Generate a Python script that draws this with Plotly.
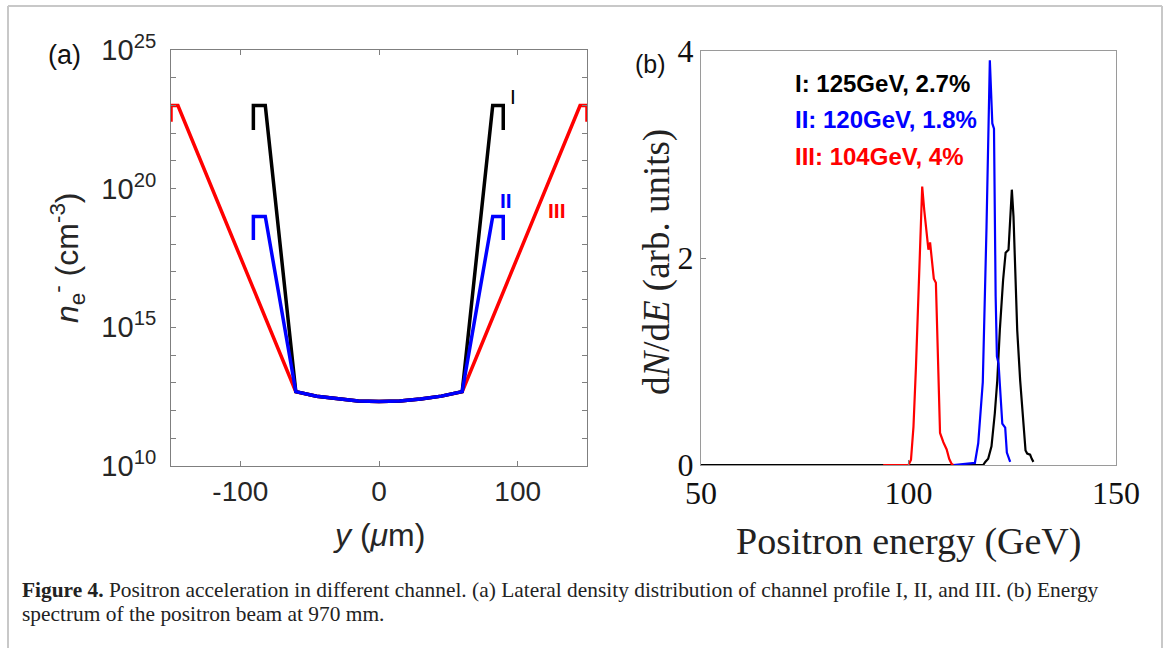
import plotly.graph_objects as go

# ---------------- panel (a): lateral density profiles ----------------
y_I = [-90.6, -90.6, -82, -60, -45, -30, -15, 0, 15, 30, 45, 60, 82, 89.6, 89.6]
n_I = [1.3e22, 1e23, 1e23, 4.8e12, 3.3e12, 2.6e12, 2.2e12, 2.1e12,
       2.2e12, 2.6e12, 3.3e12, 4.8e12, 1e23, 1e23, 1.3e22]

y_II = [-90.6, -90.6, -82, -60, -45, -30, -15, 0, 15, 30, 45, 60, 82, 89.6, 89.6]
n_II = [1.4e18, 1e19, 1e19, 4.8e12, 3.3e12, 2.6e12, 2.2e12, 2.1e12,
        2.2e12, 2.6e12, 3.3e12, 4.8e12, 1e19, 1e19, 1.4e18]

y_III = [-150, -150, -145, -60, -45, -30, -15, 0, 15, 30, 45, 60, 145, 150, 150]
n_III = [2.6e22, 1e23, 1e23, 4.8e12, 3.3e12, 2.6e12, 2.2e12, 2.1e12,
         2.2e12, 2.6e12, 3.3e12, 4.8e12, 1e23, 1e23, 2.6e22]

a_tickvals = [1e10, 1e15, 1e20, 1e25]
a_ticktext = ["10<sup>10</sup>", "10<sup>15</sup>", "10<sup>20</sup>", "10<sup>25</sup>"]
a_minor = [1e11, 1e12, 1e13, 1e14, 1e16, 1e17, 1e18, 1e19,
           1e21, 1e22, 1e23, 1e24]
a_xticks = [-100, 0, 100]
a_xticktext = ["-100", "0", "100"]

# ---------------- panel (b): positron energy spectra ----------------
E_I = [50, 118.0, 118.5, 119.2, 120.0, 120.8, 121.4, 122.0, 122.8, 123.4,
       124.1, 124.5, 124.9, 125.3, 125.7, 126.2, 126.9, 127.5, 127.9, 128.2,
       128.6, 129.3, 129.7, 130.1]
S_I = [0, 0, 0.03, 0.06, 0.18, 0.50, 0.82, 1.30, 1.79, 2.05,
       2.08, 2.40, 2.66, 2.40, 1.95, 1.30, 0.82, 0.50, 0.34, 0.14,
       0.11, 0.10, 0.06, 0.03]

E_II = [110.8, 116.0, 116.8, 117.9, 118.8, 119.6, 120.2, 120.6, 121.0,
        121.3, 121.7, 122.1, 122.6, 123.3, 123.7, 124.5]
S_II = [0, 0.02, 0.21, 0.80, 2.30, 3.91, 3.30, 3.25, 1.63,
        1.05, 0.98, 0.70, 0.40, 0.36, 0.12, 0.03]

E_III = [93.9, 100.0, 100.6, 101.2, 101.8, 102.4, 103.0, 103.3, 103.8, 104.4,
         104.8, 105.2, 105.6, 106.1, 106.6, 107.0, 107.6, 108.4, 109.2, 109.8,
         110.4, 110.8]
S_III = [0, 0, 0.05, 0.37, 0.95, 1.66, 2.40, 2.69, 2.46, 2.20,
         2.08, 2.15, 2.00, 1.80, 1.76, 1.10, 0.31, 0.22, 0.15, 0.06,
         0.01, 0]

b_xticks = [50, 100, 150]
b_yticks = [0, 2, 4]

legend_lines = ["I: 125GeV, 2.7%", "II: 120GeV, 1.8%", "III: 104GeV, 4%"]

BLACK, BLUE, RED = "#000000", "#0000ff", "#ff0000"
SANS = "Liberation Sans, Arial, sans-serif"
SERIF = "Liberation Serif, Times New Roman, serif"

W, H = 1170, 648


def px(x):
    return x / W


def py(y):
    return 1 - y / H


fig = go.Figure()

# panel (a) curves
for xs, ys, c in [(y_III, n_III, RED), (y_I, n_I, BLACK), (y_II, n_II, BLUE)]:
    fig.add_trace(go.Scatter(x=xs, y=ys, mode="lines", xaxis="x", yaxis="y",
                             line=dict(color=c, width=3.5), cliponaxis=False,
                             showlegend=False, hoverinfo="skip"))

# panel (b) curves
for xs, ys, c in [(E_I, S_I, BLACK), (E_II, S_II, BLUE), (E_III, S_III, RED)]:
    fig.add_trace(go.Scatter(x=xs, y=ys, mode="lines", xaxis="x2", yaxis="y2",
                             line=dict(color=c, width=2.2), cliponaxis=False,
                             showlegend=False, hoverinfo="skip"))

axis_gray = "#7f7f7f"

fig.update_layout(
    width=W, height=H, autosize=False, showlegend=False,
    margin=dict(l=0, r=0, t=0, b=0, pad=0, autoexpand=False),
    paper_bgcolor="white", plot_bgcolor="white",
    xaxis=dict(domain=[px(171), px(587)], anchor="y", range=[-150, 150],
               tickvals=a_xticks, ticktext=a_xticktext,
               ticks="inside", ticklen=5, tickcolor=axis_gray,
               showline=True, linecolor=axis_gray, linewidth=1, mirror="ticks",
               showgrid=False, zeroline=False, automargin=False,
               tickfont=dict(family=SANS, size=28, color="#262626")),
    yaxis=dict(domain=[py(466), py(50)], anchor="x", type="log", range=[10, 25],
               tickvals=a_tickvals, ticktext=a_ticktext, ticklabelstandoff=8,
               ticks="inside", ticklen=5, tickcolor=axis_gray,
               minor=dict(tickvals=a_minor, ticks="inside", ticklen=5,
                          tickcolor=axis_gray, showgrid=False),
               showline=True, linecolor=axis_gray, linewidth=1, mirror="ticks",
               showgrid=False, zeroline=False, automargin=False,
               tickfont=dict(family=SANS, size=29, color="#262626")),
    xaxis2=dict(domain=[px(701), px(1116)], anchor="y2", range=[50, 150],
                tickvals=b_xticks, ticks="inside", ticklen=5, tickcolor=axis_gray,
                showline=True, linecolor="#9a9a9a", linewidth=1, mirror=True,
                showgrid=False, zeroline=False, automargin=False,
                tickfont=dict(family=SERIF, size=32, color="#111111")),
    yaxis2=dict(domain=[py(465), py(51)], anchor="x2", range=[0, 4],
                tickvals=b_yticks, ticks="inside", ticklen=5, tickcolor=axis_gray,
                showline=True, linecolor="#9a9a9a", linewidth=1, mirror=True,
                showgrid=False, zeroline=False, automargin=False,
                tickfont=dict(family=SERIF, size=32, color="#111111")),
)


def label(text, x, y, size, family=SANS, color="#111", angle=0,
          xanchor="center", yanchor="middle", xref="paper", yref="paper"):
    if xref == "paper":
        x = px(x)
    if yref == "paper":
        y = py(y)
    return dict(text=text, x=x, y=y, xref=xref, yref=yref, textangle=angle,
                xanchor=xanchor, yanchor=yanchor, align="left", showarrow=False,
                font=dict(family=family, size=size, color=color))


ann = [
    # panel letters
    label("(a)", 64, 55, 27),
    label("(b)", 650, 64, 25),
    # axis titles
    label("<i>n</i><sub>e</sub><sup>-</sup> (cm<sup>-3</sup>)", 67, 258, 32,
          color="#262626", angle=-90),
    label("<i>y</i> (<i>\u03bc</i>m)", 379, 535, 32, color="#262626"),
    label("d<i>N</i>/d<i>E</i> (arb. units)", 657, 262, 37, family=SERIF,
          color="#222", angle=-90),
    label("Positron energy (GeV)", 908, 541, 38, family=SERIF, color="#222"),
    # curve labels in panel (a), placed in data coordinates (log10 for y)
    label("I", 96.6, 23.34, 21, color=BLACK, xref="x", yref="y"),
    label("<b>II</b>", 91.6, 19.59, 21, color=BLUE, xref="x", yref="y"),
    label("<b>III</b>", 128.3, 19.23, 21, color=RED, xref="x", yref="y"),
]

# energy/spread labels in panel (b)
for txt, yc, c in zip(legend_lines, [83, 120, 157], [BLACK, BLUE, RED]):
    ann.append(label("<b>" + txt + "</b>", 793, yc, 24, color=c, xanchor="left"))

# caption, one annotation per line
ann.append(label("<b>Figure 4.</b> Positron acceleration in different channel. (a) Lateral "
                 "density distribution of channel profile I, II, and III. (b) Energy",
                 20, 590, 21.4, family=SERIF, color="#222", xanchor="left"))
ann.append(label("spectrum of the positron beam at 970 mm.",
                 20, 614, 21.4, family=SERIF, color="#222", xanchor="left"))

fig.update_layout(annotations=ann)

# light frame around the figure
frame = dict(type="line", xref="paper", yref="paper",
             line=dict(color="#c8c8c8", width=2))
fig.update_layout(shapes=[
    dict(frame, x0=px(8), x1=px(8), y0=py(6), y1=0),
    dict(frame, x0=px(8), x1=px(1162), y0=py(6), y1=py(6)),
    dict(frame, x0=px(1162), x1=px(1162), y0=py(6), y1=0),
])

fig.write_html("out.html")
